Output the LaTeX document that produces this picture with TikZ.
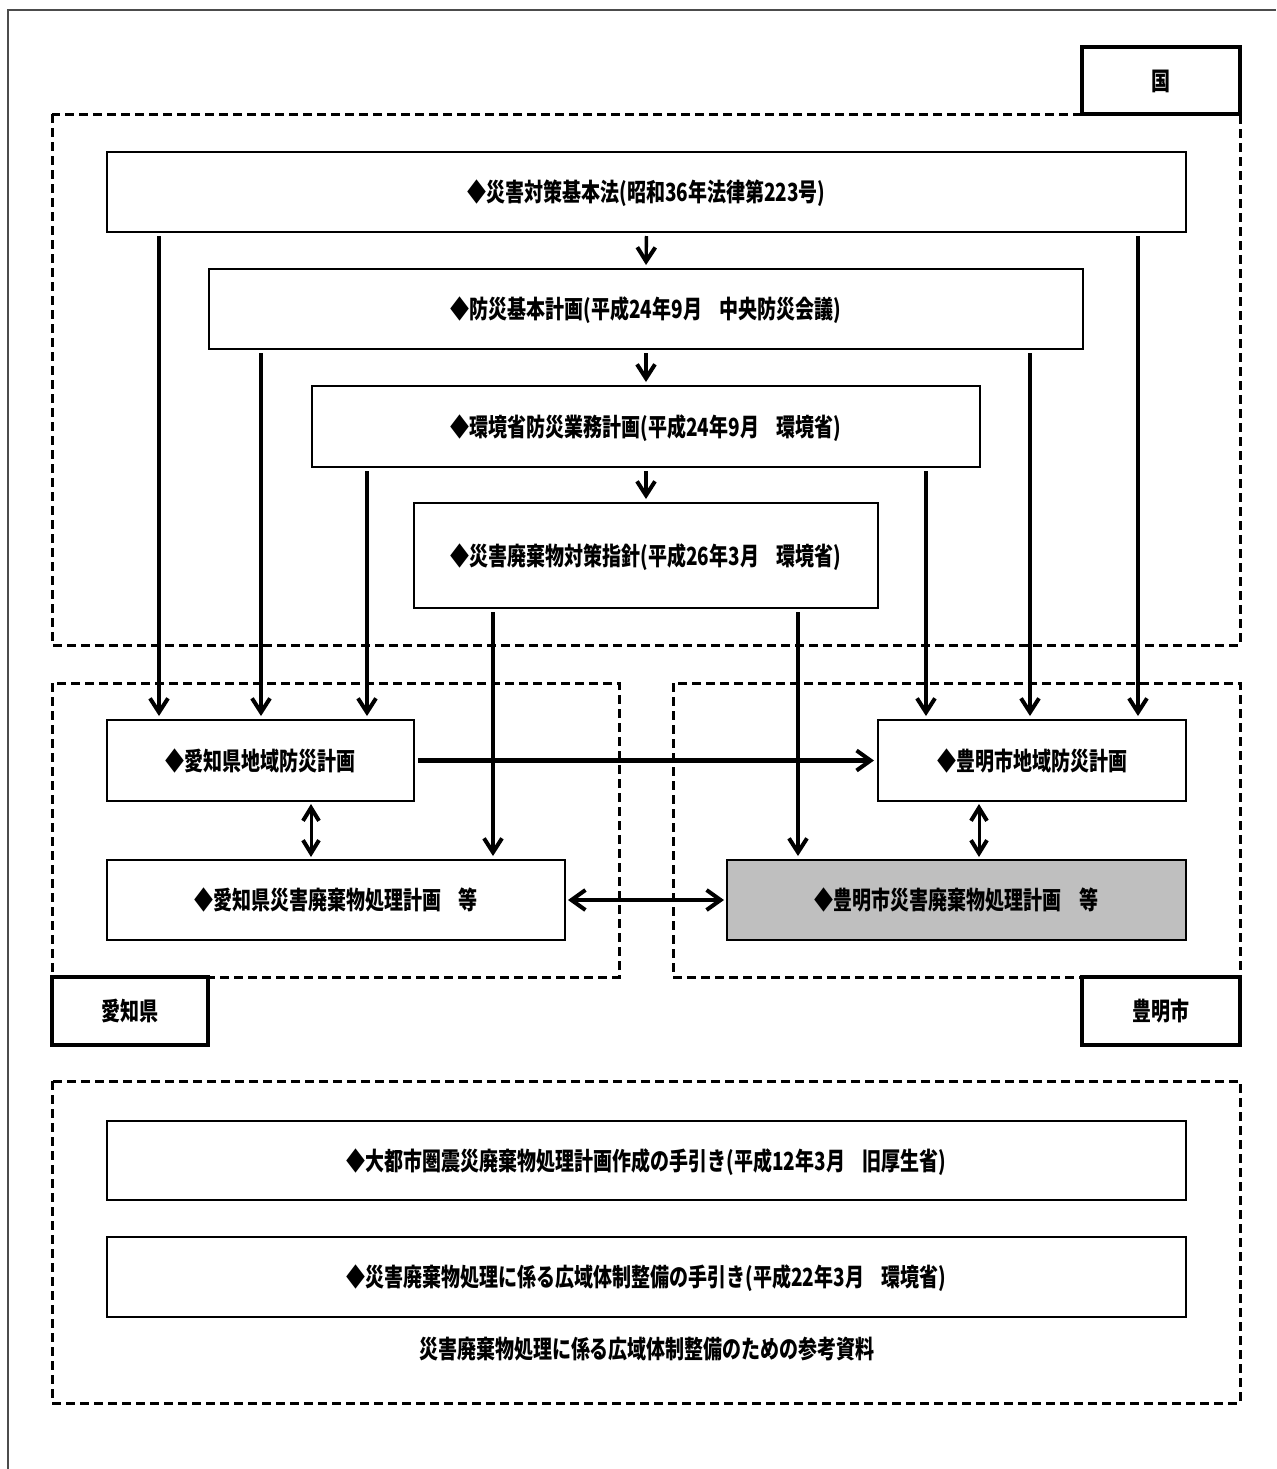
\documentclass[tikz,border=0pt]{standalone}
\usepackage{fontspec}
\setmainfont{Noto Sans CJK JP}[FakeStretch=0.76]
\usetikzlibrary{arrows.meta}
\newcommand{\gap}{\hspace{0.7em}}
\begin{document}
\begin{tikzpicture}[x=0.5pt,y=-0.5pt,
  every node/.style={font=\bfseries\fontsize{12.5}{14}\selectfont, text height=9.5pt, text depth=0pt},
  sz/.style 2 args={minimum width=#1*0.5pt, minimum height=#2*0.5pt},
  box/.style={draw, line width=1pt, fill=white, inner sep=0pt},
  graybox/.style={box, fill=black!25},
  labelbox/.style={draw, line width=1.6pt, fill=white, inner sep=0pt},
  dbox/.style={draw, line width=1.5pt, dash pattern=on 4.5pt off 2.5pt},
  arr/.style={line width=1.7pt, -{Straight Barb[length=7pt,width=9pt,line width=2pt]}, shorten >=1.5pt, shorten <=1.5pt},
  harr/.style={line width=2.4pt, -{Straight Barb[length=7pt,width=10pt,line width=2pt]}, shorten >=1.5pt, shorten <=1.5pt},
  darr/.style={line width=1.5pt, {Straight Barb[length=6.5pt,width=8pt,line width=2pt]}-{Straight Barb[length=6.5pt,width=8pt,line width=2pt]}, shorten >=1pt, shorten <=1pt},
  hdarr/.style={line width=2.4pt, {Straight Barb[length=7pt,width=10pt,line width=2pt]}-{Straight Barb[length=7pt,width=10pt,line width=2pt]}, shorten >=1pt, shorten <=1pt}
]
\useasboundingbox (0,0) rectangle (1276,1469);
% outer frame
\draw[line width=1pt, black!70] (8,1469) -- (8,10) -- (1276,10);

% dashed region boxes
\draw[dbox] (52,114) rectangle (1240,645);
\draw[dbox] (52,683) rectangle (619,977);
\draw[dbox] (673,683) rectangle (1240,977);
\draw[dbox] (52,1081) rectangle (1240,1403);

% region labels
\node[labelbox, sz={158}{67}] (kuni) at (1161,80.5) {国};
\node[labelbox, sz={156}{68}] (aichi) at (130,1011) {愛知県};
\node[labelbox, sz={158}{68}] (toyoake) at (1161,1011) {豊明市};

% national plans
\node[box, sz={1079}{80}] (b1) at (646.5,192) {◆災害対策基本法(昭和36年法律第223号)};
\node[box, sz={874}{80}] (b2) at (646,309) {◆防災基本計画(平成24年9月\gap 中央防災会議)};
\node[box, sz={668}{81}] (b3) at (646,426.5) {◆環境省防災業務計画(平成24年9月\gap 環境省)};
\node[box, sz={464}{105}] (b4) at (646,555.5) {◆災害廃棄物対策指針(平成26年3月\gap 環境省)};

% prefecture / city plans
\node[box, sz={307}{81}] (a1) at (260.5,760.5) {◆愛知県地域防災計画};
\node[box, sz={458}{80}] (a2) at (336,900) {◆愛知県災害廃棄物処理計画\gap 等};
\node[box, sz={308}{81}] (t1) at (1032,760.5) {◆豊明市地域防災計画};
\node[graybox, sz={459}{80}] (t2) at (956.5,900) {◆豊明市災害廃棄物処理計画\gap 等};

% reference documents
\node[box, sz={1079}{79}] (r1) at (646.5,1160.5) {◆大都市圏震災廃棄物処理計画作成の手引き(平成12年3月\gap 旧厚生省)};
\node[box, sz={1079}{80}] (r2) at (646.5,1277) {◆災害廃棄物処理に係る広域体制整備の手引き(平成22年3月\gap 環境省)};
\node (cap) at (647,1349) {災害廃棄物処理に係る広域体制整備のための参考資料};

% x positions of vertical connectors
\coordinate (xa) at (159,0);
\coordinate (xb) at (261,0);
\coordinate (xc) at (367,0);
\coordinate (xd) at (926,0);
\coordinate (xe) at (1030,0);
\coordinate (xf) at (1138,0);
\coordinate (xg) at (493,0);
\coordinate (xh) at (798,0);
\coordinate (xi) at (311,0);
\coordinate (xj) at (979,0);

% chain of national plans
\draw[arr] (b1.south) -- (b2.north);
\draw[arr] (b2.south) -- (b3.north);
\draw[arr] (b3.south) -- (b4.north);

% to prefecture
\draw[arr] (b1.south -| xa) -- (a1.north -| xa);
\draw[arr] (b2.south -| xb) -- (a1.north -| xb);
\draw[arr] (b3.south -| xc) -- (a1.north -| xc);
% to city
\draw[arr] (b1.south -| xf) -- (t1.north -| xf);
\draw[arr] (b2.south -| xe) -- (t1.north -| xe);
\draw[arr] (b3.south -| xd) -- (t1.north -| xd);
% guideline to waste plans
\draw[arr] (b4.south -| xg) -- (a2.north -| xg);
\draw[arr] (b4.south -| xh) -- (t2.north -| xh);

% horizontal and mutual links
\draw[harr] (a1.east) -- (t1.west);
\draw[hdarr] (a2.east) -- (t2.west);
\draw[darr] (a1.south -| xi) -- (a2.north -| xi);
\draw[darr] (t1.south -| xj) -- (t2.north -| xj);
\end{tikzpicture}
\end{document}
